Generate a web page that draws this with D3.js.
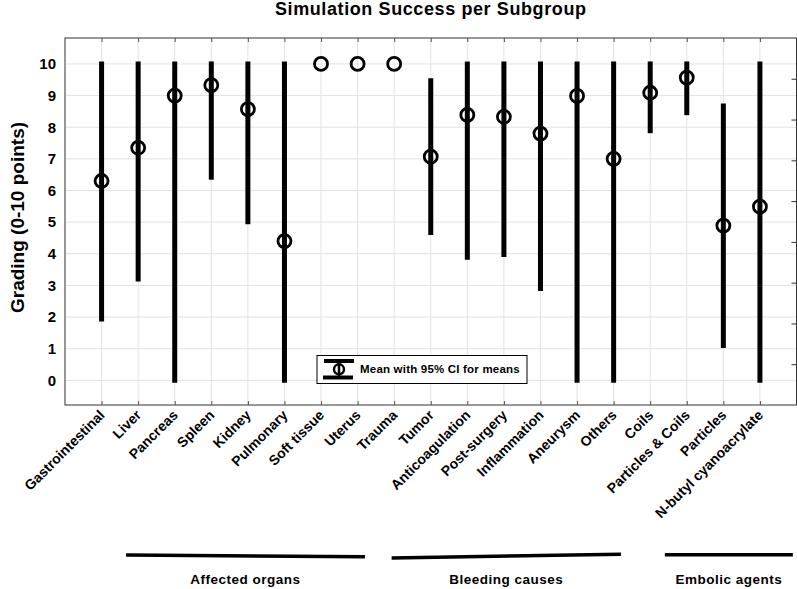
<!DOCTYPE html>
<html>
<head>
<meta charset="utf-8">
<script src="https://cdn.jsdelivr.net/npm/d3@7/dist/d3.min.js"></script>
<style>
  html, body { margin: 0; padding: 0; background: #fff; }
  svg { display: block; font-family: "Liberation Sans", Arial, sans-serif; }
</style>
</head>
<body>
<svg id="chart" width="797" height="589"></svg>
<script>
// ---- data ----
const categories = ["Gastrointestinal", "Liver", "Pancreas", "Spleen", "Kidney", "Pulmonary",
  "Soft tissue", "Uterus", "Trauma", "Tumor", "Anticoagulation", "Post-surgery",
  "Inflammation", "Aneurysm", "Others", "Coils", "Particles & Coils", "Particles",
  "N-butyl cyanoacrylate"];
const means = [6.30, 7.35, 9.00, 9.33, 8.57, 4.40, 10, 10, 10, 7.07, 8.39, 8.33, 7.80, 8.99, 7.00, 9.09, 9.57, 4.89, 5.49];
const ciLow = [1.94, 3.20, 0, 6.42, 5.01, 0, null, null, null, 4.67, 3.89, 3.98, 2.90, 0, 0, 7.89, 8.46, 1.10, 0];
const ciHigh = [10, 10, 10, 10, 10, 10, null, null, null, 9.47, 10, 10, 10, 10, 10, 10, 10, 8.67, 10];
const yTicks = [0, 1, 2, 3, 4, 5, 6, 7, 8, 9, 10];
const groupNames = ["Affected organs", "Bleeding causes", "Embolic agents"];
const groupStart = [1.67, 8.93, 16.4];
const groupEnd = [8.2, 15.2, 19.9];
const titleText = "Simulation Success per Subgroup";
const yLabelText = "Grading (0-10 points)";
const legendText = "Mean with 95% CI for means";

// ---- layout ----
const svg = d3.select("#chart");
const pL = 65, pR = 796.5, pT = 38, pB = 405;
const groupLineY = [[555, 556.7], [558, 554.3], [554.7, 554.7]];

const x = d3.scaleLinear().domain([0, categories.length + 1]).range([pL, pR]);
const y = d3.scaleLinear().domain([-0.78, 10.82]).range([pB, pT]);
const yRight = d3.scaleLinear().domain([0, 9]).range([pB, pT]);
const catIdx = categories.map((d, i) => i + 1);

// grid
const grid = svg.append("g");
grid.selectAll("line.v").data(catIdx).join("line").attr("class", "v")
  .attr("x1", d => x(d)).attr("x2", d => x(d))
  .attr("y1", pT).attr("y2", pB)
  .attr("stroke", "#e2e2e2").attr("stroke-width", 1);
grid.selectAll("line.h").data(yTicks).join("line").attr("class", "h")
  .attr("x1", pL).attr("x2", pR)
  .attr("y1", d => y(d)).attr("y2", d => y(d))
  .attr("stroke", "#e2e2e2").attr("stroke-width", 1);

// frame
svg.append("rect").attr("x", pL).attr("y", pT)
  .attr("width", pR - pL).attr("height", pB - pT)
  .attr("fill", "none").attr("stroke", "#333").attr("stroke-width", 1);

// ticks top/bottom (inward)
const axTop = d3.axisTop(x).tickValues(catIdx).tickSize(-4).tickFormat("");
svg.append("g").attr("transform", `translate(0,${pT})`).call(axTop)
  .call(g => g.select(".domain").remove())
  .selectAll("line").attr("stroke", "#555");
const axBot = d3.axisBottom(x).tickValues(catIdx).tickSize(-4).tickFormat("");
svg.append("g").attr("transform", `translate(0,${pB})`).call(axBot)
  .call(g => g.select(".domain").remove())
  .selectAll("line").attr("stroke", "#555");
// right ticks
const axRight = d3.axisRight(yRight).tickValues(d3.range(1, 9)).tickSize(-5).tickFormat("");
svg.append("g").attr("transform", `translate(${pR},0)`).call(axRight)
  .call(g => g.select(".domain").remove())
  .selectAll("line").attr("stroke", "#333");

// left axis labels
const axLeft = d3.axisLeft(y).tickValues(yTicks).tickSize(0).tickPadding(9).tickFormat(d3.format("d"));
const gl = svg.append("g").attr("transform", `translate(${pL},0)`).call(axLeft);
gl.select(".domain").remove();
gl.selectAll("text").attr("font-family", "Liberation Sans, Arial, sans-serif")
  .attr("font-size", 15).attr("font-weight", "bold").attr("fill", "#000");

// x labels
const gx = svg.append("g");
gx.selectAll("text").data(categories).join("text")
  .attr("transform", (d, i) => `translate(${x(i + 1) + 4},${pB + 11}) rotate(-45)`)
  .attr("text-anchor", "end")
  .attr("font-size", 14).attr("font-weight", "bold").attr("fill", "#000")
  .text(d => d);

// CI bars
const marks = svg.append("g");
const ciIdx = categories.map((d, i) => i).filter(i => ciLow[i] !== null);
marks.selectAll("line.ci").data(ciIdx).join("line").attr("class", "ci")
  .attr("x1", i => x(i + 1)).attr("x2", i => x(i + 1))
  .attr("y1", i => y(ciLow[i])).attr("y2", i => y(ciHigh[i]))
  .attr("stroke", "#000").attr("stroke-width", 5).attr("stroke-linecap", "square");
// means
marks.selectAll("circle").data(means).join("circle")
  .attr("cx", (d, i) => x(i + 1)).attr("cy", d => y(d))
  .attr("r", 6.5).attr("fill", "none").attr("stroke", "#000").attr("stroke-width", 2.8);

// title
svg.append("text").attr("x", (pL + pR) / 2).attr("y", 15)
  .attr("text-anchor", "middle").attr("font-size", 18).attr("font-weight", "bold")
  .attr("letter-spacing", 0.6).text(titleText);

// y label
svg.append("text").attr("transform", `translate(24,${(pT + pB) / 2 - 4}) rotate(-90)`)
  .attr("text-anchor", "middle").attr("font-size", 19).attr("font-weight", "bold")
  .text(yLabelText);

// legend
const lg = svg.append("g");
lg.append("rect").attr("x", 317).attr("y", 355.5).attr("width", 210).attr("height", 28)
  .attr("fill", "#fff").attr("stroke", "#000").attr("stroke-width", 1);
lg.append("line").attr("x1", 324).attr("x2", 354).attr("y1", 361).attr("y2", 361)
  .attr("stroke", "#000").attr("stroke-width", 4);
lg.append("line").attr("x1", 323).attr("x2", 353).attr("y1", 377.5).attr("y2", 377.5)
  .attr("stroke", "#000").attr("stroke-width", 4);
lg.append("line").attr("x1", 339).attr("x2", 339).attr("y1", 361).attr("y2", 377.5)
  .attr("stroke", "#000").attr("stroke-width", 2.5);
lg.append("circle").attr("cx", 339).attr("cy", 369.3).attr("r", 5)
  .attr("fill", "none").attr("stroke", "#000").attr("stroke-width", 2.4);
lg.append("text").attr("x", 360).attr("y", 373).attr("font-size", 11.5).attr("font-weight", "bold")
  .attr("letter-spacing", 0.2).text(legendText);

// group brackets
const gg = svg.append("g");
gg.selectAll("line").data(groupNames).join("line")
  .attr("x1", (d, i) => x(groupStart[i])).attr("x2", (d, i) => x(groupEnd[i]))
  .attr("y1", (d, i) => groupLineY[i][0]).attr("y2", (d, i) => groupLineY[i][1])
  .attr("stroke", "#000").attr("stroke-width", 3.5);
gg.selectAll("text").data(groupNames).join("text")
  .attr("x", (d, i) => x((groupStart[i] + groupEnd[i]) / 2)).attr("y", 584)
  .attr("text-anchor", "middle").attr("font-size", 13.5).attr("font-weight", "bold")
  .attr("letter-spacing", 0.5).text(d => d);
</script>
</body>
</html>
